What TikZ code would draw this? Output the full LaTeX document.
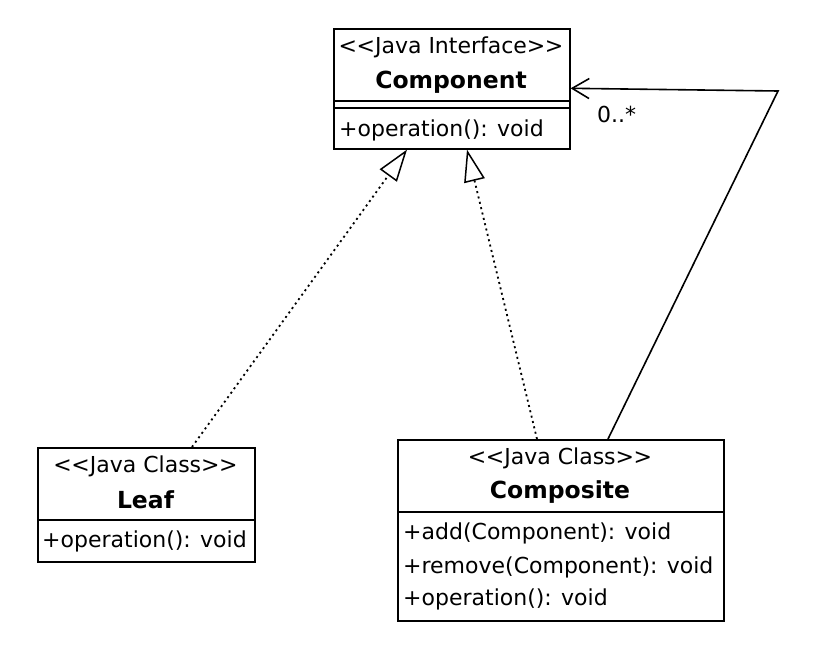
\documentclass[tikz,border=0pt]{standalone}
\usepackage{fontspec}
\setmainfont{DejaVu Sans}
\usetikzlibrary{arrows.meta}
\newcommand\lgl{<\kern-0.5pt<}
\newcommand\rgl{>\kern-0.5pt>}
\begin{document}
\begin{tikzpicture}[x=1pt,y=1pt,
  umlbox/.style={draw=black, line width=1.6pt, fill=white, inner sep=0pt, anchor=north west},
  divider/.style={draw=black, line width=1.6pt},
  txt/.style={font=\fontsize{22}{25}\selectfont, inner sep=0pt},
  ttl/.style={font=\fontsize{23.5}{26}\selectfont\bfseries, inner sep=0pt},
  realize/.style={draw=black, line width=1.8pt, dash pattern=on 2pt off 3.5pt,
    -{Triangle[open, length=32pt, width=21pt, line width=1.5pt]}},
  assoc/.style={draw=black, line width=1.6pt,
    -{Straight Barb[length=17pt, width=20pt, line width=1.6pt]}}
]
\useasboundingbox[fill=white] (0,0) rectangle (828,-653);

% Component
\node[umlbox, minimum width=236pt, minimum height=120pt] (comp) at (333,-28) {};
\draw[divider] (333,-101) -- (569,-101);
\draw[divider] (333,-108) -- (569,-108);
\node[txt] (compst) at (451,-47) {\lgl Java Interface\rgl};
\node[ttl] (compname) at (451,-82) {Component};
\node[txt, anchor=west] (compop) at (339,-130) {+operation(): void};

% Leaf
\node[umlbox, minimum width=217pt, minimum height=114pt] (leaf) at (37,-447) {};
\draw[divider] (37,-520) -- (254,-520);
\node[txt] (leafst) at (145.5,-466) {\lgl Java Class\rgl};
\node[ttl] (leafname) at (145.5,-500) {Leaf};
\node[txt, anchor=west] (leafop) at (42,-541) {+operation(): void};

% Composite
\node[umlbox, minimum width=326pt, minimum height=181pt] (compo) at (397,-439) {};
\draw[divider] (397,-512) -- (723,-512);
\node[txt] (compost) at (560,-458) {\lgl Java Class\rgl};
\node[ttl] (componame) at (560,-492) {Composite};
\node[txt, anchor=west] (coadd) at (403,-533) {+add(Component): void};
\node[txt, anchor=west] (corem) at (403,-567) {+remove(Component): void};
\node[txt, anchor=west] (coop) at (403,-599) {+operation(): void};

% connectors
\draw[realize] ([xshift=155pt]leaf.north west) -- ([xshift=74pt]comp.south west);
\draw[realize] ([xshift=140pt]compo.north west) -- ([xshift=134pt]comp.south west);
\coordinate (corner) at (778,-91);
\draw[assoc] ([xshift=211pt]compo.north west) -- (corner) -- ([yshift=0.5pt]comp.east);
\node[txt, anchor=west] (mult) at (597,-114) {0..*};
\end{tikzpicture}
\end{document}
